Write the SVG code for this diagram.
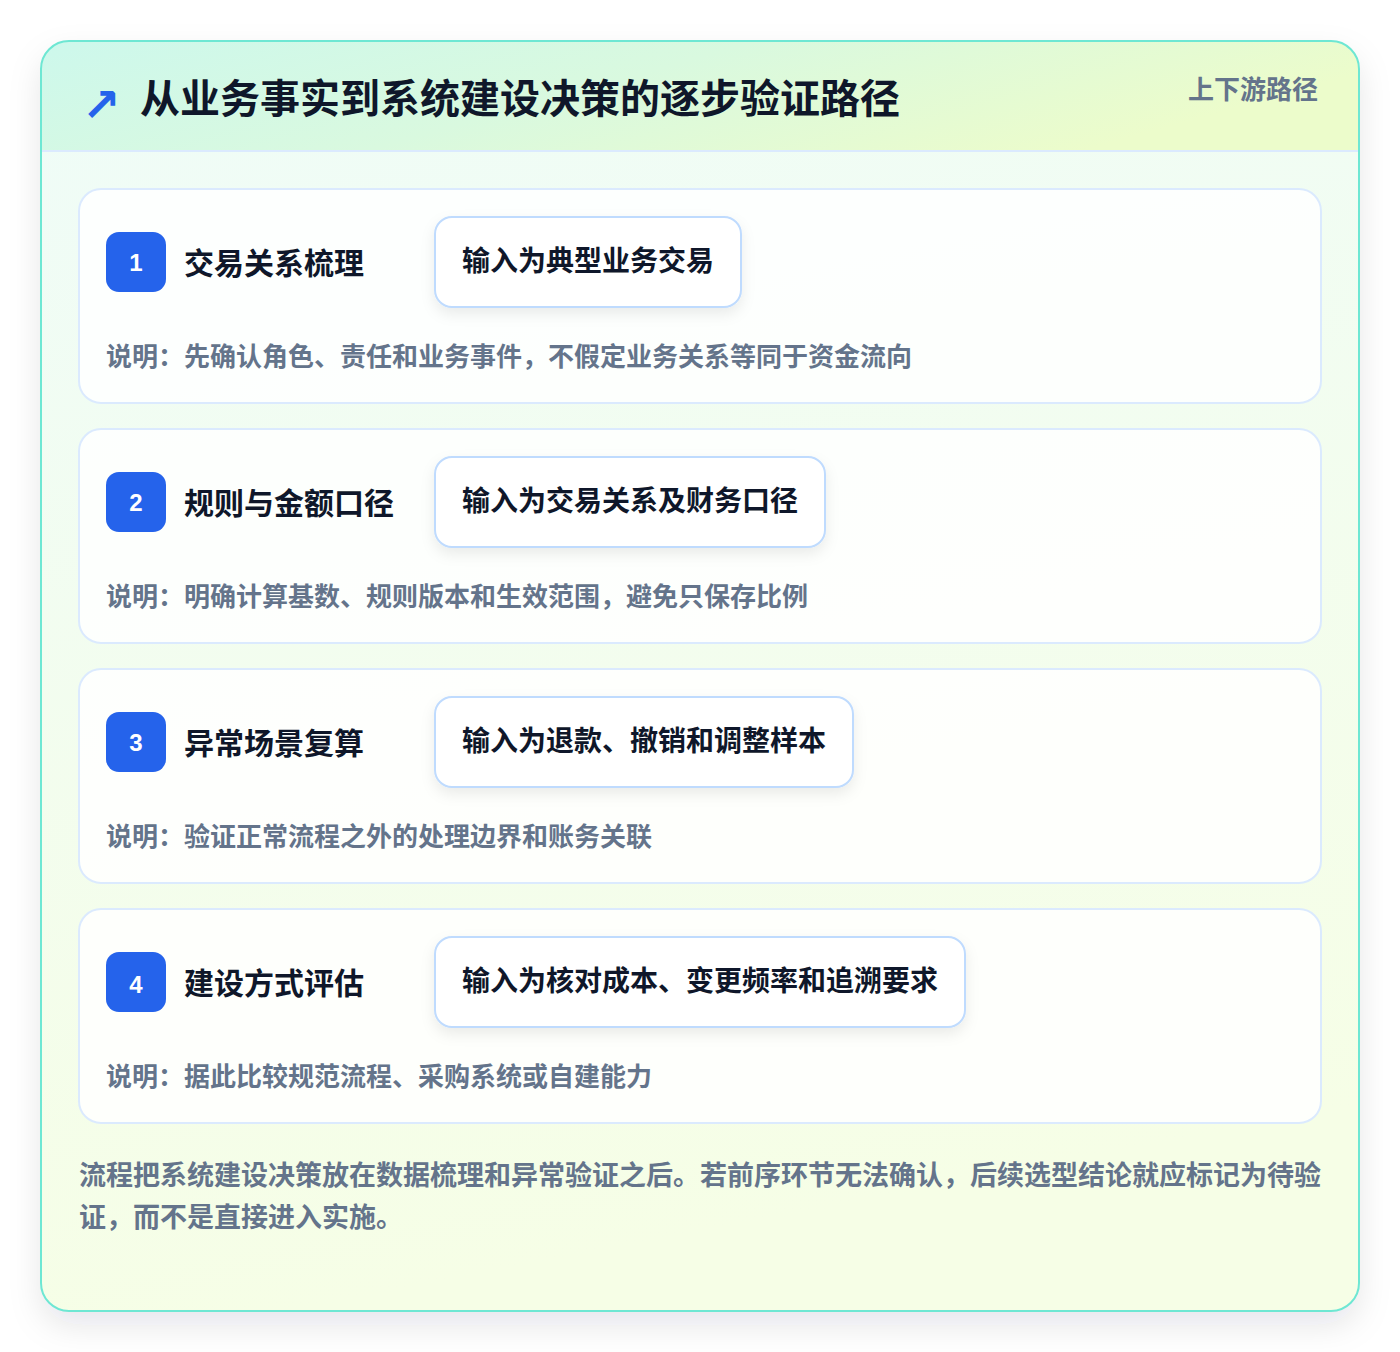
<svg xmlns="http://www.w3.org/2000/svg" width="1400" height="1352" viewBox="0 0 1400 1352">
<defs>
<linearGradient id="hdr" x1="0" y1="0" x2="1" y2="0.3">
<stop offset="0" stop-color="#cdf8ec"/>
<stop offset="0.5" stop-color="#d9f9df"/>
<stop offset="1" stop-color="#ecfccb"/>
</linearGradient>
<linearGradient id="body" x1="0" y1="0" x2="0.2" y2="1">
<stop offset="0" stop-color="#effcf8"/>
<stop offset="1" stop-color="#f6fee6"/>
</linearGradient>
<filter id="sh" x="-10%" y="-10%" width="120%" height="120%">
<feDropShadow dx="0" dy="14" stdDeviation="16" flood-color="#0f172a" flood-opacity="0.10"/>
</filter>
<filter id="psh" x="-20%" y="-30%" width="140%" height="170%">
<feDropShadow dx="0" dy="6" stdDeviation="7" flood-color="#0f172a" flood-opacity="0.08"/>
</filter>
<clipPath id="panelclip"><rect x="41" y="41" width="1318" height="1270" rx="28"/></clipPath>
</defs>
<style>
.card{fill:#ffffff;fill-opacity:0.85;stroke:#dbeafe;stroke-width:2}
.badge{fill:#2563eb}
.num{font-family:"Liberation Sans",Arial,sans-serif;font-weight:700;font-size:24px;fill:#ffffff;text-anchor:middle}
.ttl{font-family:"Noto Sans CJK SC","Liberation Sans",sans-serif;font-weight:700;font-size:30px;fill:#0f172a}
.pill{fill:#ffffff;stroke:#bfdbfe;stroke-width:2}
.ptx{font-family:"Noto Sans CJK SC","Liberation Sans",sans-serif;font-weight:700;font-size:28px;fill:#0f172a}
.desc{font-family:"Noto Sans CJK SC","Liberation Sans",sans-serif;font-weight:700;font-size:26px;fill:#64748b}
.foot{font-family:"Noto Sans CJK SC","Liberation Sans",sans-serif;font-weight:700;font-size:27px;fill:#64748b}
</style>
<rect width="1400" height="1352" fill="#ffffff"/>
<g id="panel">
<rect x="41" y="41" width="1318" height="1270" rx="28" fill="url(#body)" filter="url(#sh)"/>
<rect x="41" y="41" width="1318" height="110" fill="url(#hdr)" clip-path="url(#panelclip)"/>
<line x1="42" y1="151" x2="1358" y2="151" stroke="#dbeafe" stroke-width="2"/>
<rect x="41" y="41" width="1318" height="1270" rx="28" fill="none" stroke="#6ee7d3" stroke-width="2"/>
</g>
<g id="header">
<text x="82" y="121" font-family="DejaVu Sans,sans-serif" font-weight="700" font-size="46" fill="#2563eb">↗</text>
<text x="140" y="113" font-family="Noto Sans CJK SC,Liberation Sans,sans-serif" font-weight="700" font-size="40" fill="#0f172a">从业务事实到系统建设决策的逐步验证路径</text>
<text x="1318" y="99" text-anchor="end" font-family="Noto Sans CJK SC,Liberation Sans,sans-serif" font-weight="700" font-size="26" fill="#64748b">上下游路径</text>
</g>
<g id="connectors"></g>
<g id="step1">
<rect class="card" x="79" y="189" width="1242" height="214" rx="22"/>
<rect class="badge" x="106" y="232" width="60" height="60" rx="13"/>
<text class="num" x="136" y="271">1</text>
<text class="ttl" x="184" y="274">交易关系梳理</text>
<rect class="pill" x="435" y="217" width="306" height="90" rx="17" filter="url(#psh)"/>
<text class="ptx" x="462" y="271">输入为典型业务交易</text>
<text class="desc" x="106" y="366">说明：先确认角色、责任和业务事件，不假定业务关系等同于资金流向</text>
</g>
<g id="step2">
<rect class="card" x="79" y="429" width="1242" height="214" rx="22"/>
<rect class="badge" x="106" y="472" width="60" height="60" rx="13"/>
<text class="num" x="136" y="511">2</text>
<text class="ttl" x="184" y="514">规则与金额口径</text>
<rect class="pill" x="435" y="457" width="390" height="90" rx="17" filter="url(#psh)"/>
<text class="ptx" x="462" y="511">输入为交易关系及财务口径</text>
<text class="desc" x="106" y="606">说明：明确计算基数、规则版本和生效范围，避免只保存比例</text>
</g>
<g id="step3">
<rect class="card" x="79" y="669" width="1242" height="214" rx="22"/>
<rect class="badge" x="106" y="712" width="60" height="60" rx="13"/>
<text class="num" x="136" y="751">3</text>
<text class="ttl" x="184" y="754">异常场景复算</text>
<rect class="pill" x="435" y="697" width="418" height="90" rx="17" filter="url(#psh)"/>
<text class="ptx" x="462" y="751">输入为退款、撤销和调整样本</text>
<text class="desc" x="106" y="846">说明：验证正常流程之外的处理边界和账务关联</text>
</g>
<g id="step4">
<rect class="card" x="79" y="909" width="1242" height="214" rx="22"/>
<rect class="badge" x="106" y="952" width="60" height="60" rx="13"/>
<text class="num" x="136" y="993">4</text>
<text class="ttl" x="184" y="994">建设方式评估</text>
<rect class="pill" x="435" y="937" width="530" height="90" rx="17" filter="url(#psh)"/>
<text class="ptx" x="462" y="991">输入为核对成本、变更频率和追溯要求</text>
<text class="desc" x="106" y="1086">说明：据此比较规范流程、采购系统或自建能力</text>
</g>
<g id="footer">
<text class="foot" x="79" y="1185">流程把系统建设决策放在数据梳理和异常验证之后。若前序环节无法确认，后续选型结论就应标记为待验</text>
<text class="foot" x="79" y="1227">证，而不是直接进入实施。</text>
</g>
</svg>
